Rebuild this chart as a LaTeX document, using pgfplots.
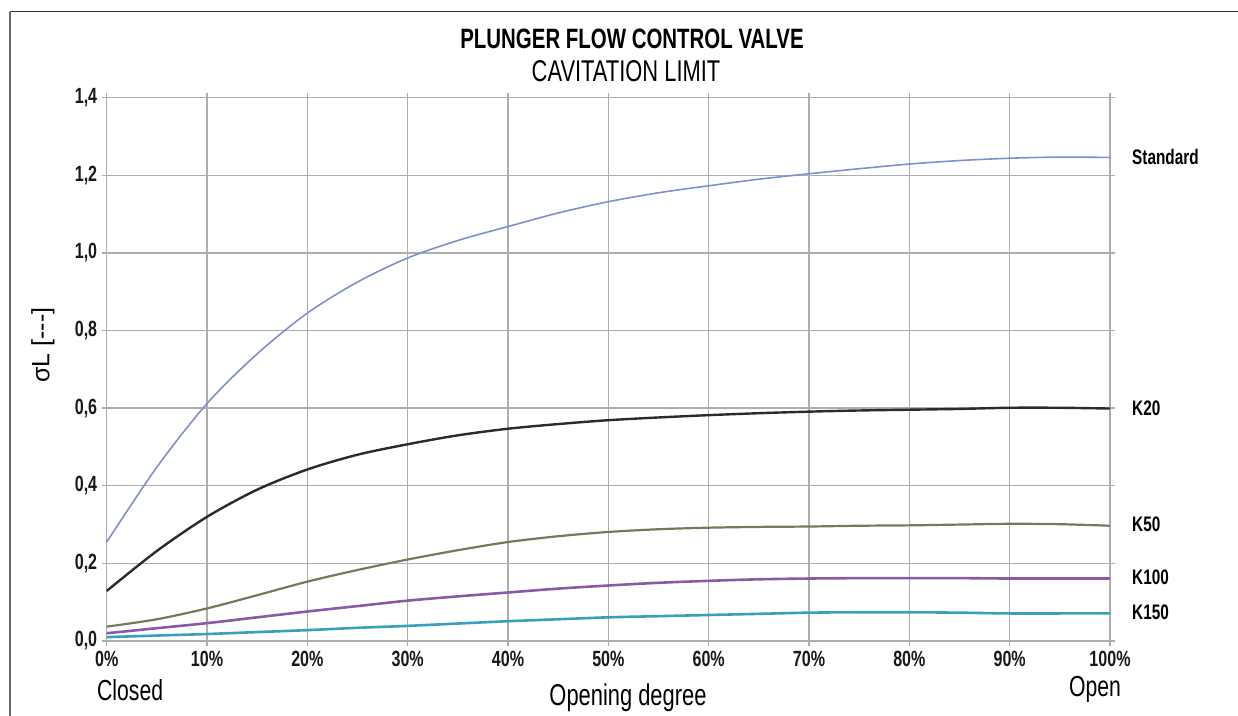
\documentclass[border=0pt]{standalone}
\usepackage{fontspec}
\setmainfont[FakeStretch=0.73]{Liberation Sans}
\newfontfamily\plainsans{Liberation Sans}
\usepackage{pgfplots}
\pgfplotsset{compat=1.18}
\usepackage{pgfplotstable}

\definecolor{cstd}{HTML}{7F90CC}
\definecolor{ck20}{HTML}{2B2B2B}
\definecolor{ck50}{HTML}{78785C}
\definecolor{ck100}{HTML}{8A5AA8}
\definecolor{ck150}{HTML}{3A9FBA}
\definecolor{gridc}{HTML}{ADADAD}

\pgfplotstableread{
x    std    kA     kB     kC     kD
0    0.255  0.129  0.037  0.020  0.010
5    0.448  0.232  0.056  0.033  0.014
10   0.612  0.320  0.084  0.046  0.018
15   0.740  0.390  0.118  0.061  0.023
20   0.845  0.442  0.153  0.076  0.028
25   0.925  0.480  0.183  0.090  0.034
30   0.987  0.507  0.210  0.104  0.039
35   1.032  0.530  0.234  0.115  0.045
40   1.068  0.547  0.255  0.125  0.051
45   1.103  0.559  0.270  0.135  0.056
50   1.132  0.569  0.281  0.143  0.061
55   1.155  0.576  0.288  0.150  0.064
60   1.173  0.582  0.292  0.155  0.067
65   1.190  0.587  0.294  0.159  0.070
70   1.204  0.591  0.295  0.161  0.073
75   1.217  0.594  0.297  0.162  0.074
80   1.229  0.596  0.298  0.162  0.074
85   1.238  0.598  0.300  0.162  0.073
90   1.244  0.601  0.302  0.161  0.071
95   1.247  0.601  0.301  0.161  0.071
100  1.246  0.599  0.297  0.161  0.071
}\datatable

\begin{document}
\begin{tikzpicture}[x=1pt,y=1pt]
\path[use as bounding box] (0,0) rectangle (1238,715);
% frame (top and left only)
\draw[line width=1.6pt, black!80] (10,703.3) -- (1238,703.3);
\draw[line width=1.6pt, black!60] (10,-5) -- (10,703.3);

\begin{axis}[
  at={(106.7pt,74pt)}, anchor=south west,
  scale only axis, width=1003.3pt, height=543.3pt,
  xmin=0, xmax=100, ymin=0, ymax=1.4,
  xtick={0,10,...,100},
  xticklabels={0\%,10\%,20\%,30\%,40\%,50\%,60\%,70\%,80\%,90\%,100\%},
  ytick={0,0.2,...,1.4},
  yticklabels={{0,0},{0,2},{0,4},{0,6},{0,8},{1,0},{1,2},{1,4}},
  grid=major,
  major grid style={draw=gridc, line width=1.4pt},
  axis line style={draw=gridc, line width=1.4pt},
  tick style={draw=gridc, line width=1.4pt},
  tick align=outside, major tick length=5pt,
  ticklabel style={font=\fontsize{22}{24}\selectfont\bfseries, text=black!90},
  xticklabel style={yshift=-2pt},
  yticklabel style={xshift=-1pt},
  clip=false,
]
\addplot[cstd, line width=1.6pt, smooth] table[x=x,y=std]{\datatable};
\addplot[ck20, line width=2.4pt, smooth] table[x=x,y=kA]{\datatable};
\addplot[ck50, line width=2.2pt, smooth] table[x=x,y=kB]{\datatable};
\addplot[ck100, line width=2.6pt, smooth] table[x=x,y=kC]{\datatable};
\addplot[ck150, line width=2.6pt, smooth] table[x=x,y=kD]{\datatable};

\begin{scope}[every node/.style={anchor=west, font=\fontsize{21}{23}\selectfont\bfseries, inner sep=0pt}]
\node at (axis cs:100,1.246) [xshift=22pt] {Standard};
\node at (axis cs:100,0.599) [xshift=22pt] {K20};
\node at (axis cs:100,0.302) [xshift=22pt] {K50};
\node at (axis cs:100,0.165) [xshift=22pt] {K100};
\node at (axis cs:100,0.074) [xshift=22pt] {K150};
\end{scope}
\end{axis}

% titles
\node[font=\fontsize{28}{30}\selectfont\bfseries, inner sep=0pt] at (632,676.5) {PLUNGER FLOW CONTROL VALVE};
\node[font=\fontsize{30}{32}\selectfont, inner sep=0pt] at (626,643.5) {CAVITATION LIMIT};
% axis texts
\node[font=\fontsize{29}{31}\selectfont, anchor=base west, inner sep=0pt] at (97,14.3) {Closed};
\node[font=\fontsize{29}{31}\selectfont, anchor=base, inner sep=0pt] at (1095,18.3) {Open};
\node[font=\fontsize{30}{32}\selectfont, anchor=base, inner sep=0pt] at (628,10) {Opening degree};
\node[font=\plainsans\fontsize{25}{28}\selectfont, rotate=90, inner sep=0pt] at (43,370) {σL [---]};
\end{tikzpicture}
\end{document}
